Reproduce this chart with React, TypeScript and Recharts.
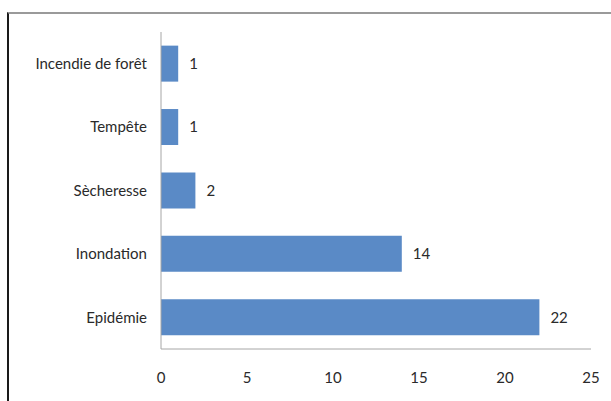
import React from "react";
import { BarChart, Bar, XAxis, YAxis, LabelList } from "recharts";

const categories = ["Incendie de forêt", "Tempête", "Sècheresse", "Inondation", "Epidémie"];
const values = [1, 1, 2, 14, 22];
const xTicks = [0, 5, 10, 15, 20, 25];

const data = categories.map((name, i) => ({ name, value: values[i] }));

const font = "Lato, 'Open Sans', sans-serif";

export default function App() {
  return (
    <div style={{ position: "absolute", left: 0, top: 0, width: 611, height: 401, background: "#fff", overflow: "hidden" }}>
      <div
        style={{
          position: "absolute",
          left: 7,
          top: 12,
          width: 700,
          height: 500,
          borderTop: "2px solid #9a9a9a",
          borderLeft: "2px solid #1a1a1a",
          boxSizing: "border-box",
        }}
      />
      <div style={{ position: "absolute", left: 0, top: 0 }}>
        <BarChart
          width={611}
          height={401}
          data={data}
          layout="vertical"
          margin={{ top: 32, right: 20, bottom: 0, left: 0 }}
          barCategoryGap="21.5%"
        >
          <XAxis
            type="number"
            domain={[0, 25]}
            ticks={xTicks}
            interval={0}
            height={52}
            axisLine={{ stroke: "#a6a6a6", strokeWidth: 1 }}
            tickLine={false}
            tickSize={6}
            tickMargin={17}
            tick={{ fill: "#2a2a2a", fontSize: 15, fontFamily: font }}
          />
          <YAxis
            type="category"
            dataKey="name"
            width={161}
            axisLine={{ stroke: "#a6a6a6", strokeWidth: 1 }}
            tickLine={false}
            tickSize={6}
            tickMargin={8}
            tick={{ fill: "#2a2a2a", fontSize: 15, fontFamily: font }}
          />
          <Bar dataKey="value" fill="#5a8ac6" isAnimationActive={false}>
            <LabelList
              dataKey="value"
              position="right"
              offset={11}
              style={{ fill: "#2a2a2a", fontSize: 15, fontFamily: font }}
            />
          </Bar>
        </BarChart>
      </div>
    </div>
  );
}
